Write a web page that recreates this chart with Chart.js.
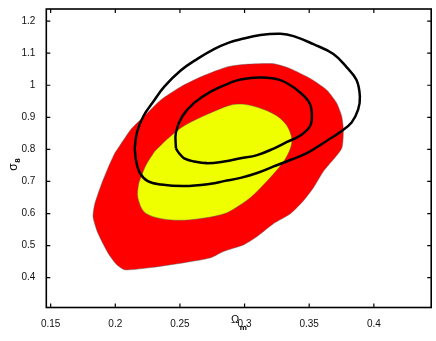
<!DOCTYPE html>
<html><head><meta charset="utf-8">
<script src="https://cdn.jsdelivr.net/npm/chart.js@4.4.0/dist/chart.umd.min.js"></script>
<style>html,body{margin:0;padding:0;background:#fff}#wrap{width:436px;height:341px;position:relative}</style>
</head><body><div id="wrap"><canvas id="c"></canvas></div>
<script>
const xTicks = [0.15, 0.2, 0.25, 0.3, 0.35, 0.4];
const xTickLabels = ['0.15', '0.2', '0.25', '0.3', '0.35', '0.4'];
const yTicks = [0.4, 0.5, 0.6, 0.7, 0.8, 0.9, 1.0, 1.1, 1.2];
const yTickLabels = ['0.4', '0.5', '0.6', '0.7', '0.8', '0.9', '1', '1.1', '1.2'];
const xTitle = 'Ω', xTitleSub = 'm';
const yTitle = 'σ', yTitleSub = '8';

// outer filled contour (red)
const redX = [0.2020,0.2123,0.2225,0.2354,0.2508,0.2662,0.2789,0.2879,0.2995,0.3225,0.3354,0.3508,0.3635,0.3712,0.3751,0.3764,0.3751,0.3610,0.3533,0.3456,0.3354,0.3225,0.3097,0.2995,0.2841,0.2738,0.2533,0.2277,0.2072,0.2008,0.1943,0.1866,0.1828,0.1841,0.1892,0.1943,0.1995,0.2020];
const redY = [0.8026,0.8636,0.9042,0.9551,0.9957,1.0262,1.0466,1.0588,1.0649,1.0670,1.0518,1.0213,0.9856,0.9450,0.9042,0.8636,0.8026,0.7316,0.6806,0.6401,0.5992,0.5687,0.5282,0.5028,0.4824,0.4620,0.4467,0.4315,0.4245,0.4419,0.4772,0.5382,0.5892,0.6297,0.6907,0.7416,0.7874,0.8026];
// inner filled contour (yellow)
const yellowX = [0.2302,0.2405,0.2533,0.2712,0.2890,0.3000,0.3148,0.3251,0.3328,0.3366,0.3354,0.3302,0.3174,0.3046,0.2918,0.2841,0.2738,0.2533,0.2354,0.2225,0.2174,0.2180,0.2205,0.2238,0.2302];
const yellowY = [0.7926,0.8331,0.8737,0.9094,0.9380,0.9405,0.9246,0.9042,0.8737,0.8331,0.8026,0.7621,0.7011,0.6501,0.6145,0.5992,0.5892,0.5791,0.5840,0.6044,0.6501,0.6907,0.7200,0.7517,0.7926];
// outer black line contour
const outerX = [0.2150,0.2168,0.2218,0.2296,0.2379,0.2508,0.2635,0.2764,0.2879,0.2969,0.3123,0.3277,0.3379,0.3533,0.3687,0.3789,0.3866,0.3892,0.3879,0.3828,0.3738,0.3625,0.3490,0.3354,0.3225,0.3097,0.2969,0.2841,0.2738,0.2533,0.2354,0.2251,0.2190,0.2162,0.2150];
const outerY = [0.8026,0.8536,0.9042,0.9500,0.9957,1.0466,1.0823,1.1128,1.1329,1.1433,1.1564,1.1604,1.1533,1.1280,1.0975,1.0567,1.0161,0.9652,0.9246,0.8840,0.8536,0.8240,0.7900,0.7669,0.7468,0.7264,0.7111,0.7011,0.6928,0.6858,0.6907,0.7011,0.7264,0.7621,0.8026];
// inner black line contour
const innerX = [0.2469,0.2469,0.2520,0.2610,0.2738,0.2879,0.2969,0.3123,0.3277,0.3405,0.3495,0.3520,0.3508,0.3431,0.3328,0.3225,0.3097,0.2969,0.2841,0.2712,0.2610,0.2533,0.2495,0.2469];
const innerY = [0.8026,0.8536,0.9042,0.9450,0.9804,1.0060,1.0182,1.0243,1.0161,0.9856,0.9499,0.9145,0.8737,0.8432,0.8231,0.8026,0.7822,0.7721,0.7621,0.7569,0.7621,0.7721,0.7874,0.8026];
// best-fit marker
const bestX = [0.2700];
const bestY = [0.7607];

const zip = (xs, ys) => xs.map((x, i) => ({x: x, y: ys[i]}));
const FONT = "'Liberation Sans', Arial, Helvetica, sans-serif";

const framePlugin = {
  id: 'frame',
  afterDraw(chart) {
    const ctx = chart.ctx, a = chart.chartArea;
    const xs = chart.scales.x, ys = chart.scales.y;
    ctx.save();
    ctx.strokeStyle = '#000';
    ctx.lineWidth = 1.6;
    ctx.strokeRect(a.left, a.top, a.right - a.left, a.bottom - a.top);
    ctx.lineWidth = 1.2;
    const L = 4;
    ctx.beginPath();
    xTicks.forEach(v => {
      const p = xs.getPixelForValue(v);
      ctx.moveTo(p, a.bottom); ctx.lineTo(p, a.bottom - L);
      ctx.moveTo(p, a.top); ctx.lineTo(p, a.top + L);
    });
    yTicks.forEach(v => {
      const p = ys.getPixelForValue(v);
      ctx.moveTo(a.left, p); ctx.lineTo(a.left + L, p);
      ctx.moveTo(a.right, p); ctx.lineTo(a.right - L, p);
    });
    ctx.stroke();
    // axis titles
    ctx.fillStyle = '#000';
    ctx.textBaseline = 'alphabetic';
    ctx.textAlign = 'left';
    const cx = (a.left + a.right) / 2;
    ctx.font = '11px ' + FONT;
    const w1 = ctx.measureText(xTitle).width;
    ctx.font = 'bold 8px ' + FONT;
    const w2 = ctx.measureText(xTitleSub).width;
    const x0 = cx - (w1 + w2) / 2;
    ctx.font = '11px ' + FONT;
    ctx.fillText(xTitle, x0, 322.5);
    ctx.font = 'bold 8px ' + FONT;
    ctx.fillText(xTitleSub, x0 + w1 + 0.5, 330);
    // y title rotated
    ctx.save();
    ctx.translate(17, 164);
    ctx.rotate(-Math.PI / 2);
    ctx.font = '12px ' + FONT;
    const v1 = ctx.measureText(yTitle).width;
    ctx.fillText(yTitle, -v1 / 2 - 3, 0);
    ctx.font = 'bold 8px ' + FONT;
    ctx.fillText(yTitleSub, v1 / 2 - 3 + 0.5, 2.5);
    ctx.restore();
    ctx.restore();
  }
};

new Chart(document.getElementById('c'), {
  type: 'scatter',
  data: {
    datasets: [
      {data: zip(innerX, innerY), showLine: true, fill: false, borderColor: '#000', borderWidth: 2.5, pointRadius: 0, tension: 0.4, order: 0},
      {data: zip(outerX, outerY), showLine: true, fill: false, borderColor: '#000', borderWidth: 2.5, pointRadius: 0, tension: 0.4, order: 1},
      {data: zip(bestX, bestY), showLine: false, pointStyle: 'crossRot', pointRadius: 1.5, borderColor: '#8890a0', borderWidth: 0.8, order: 2},
      {data: zip(yellowX, yellowY), showLine: true, fill: 'shape', backgroundColor: '#efff00', borderColor: 'rgba(90,90,90,0.8)', borderWidth: 0.6, pointRadius: 0, tension: 0.3, order: 3},
      {data: zip(redX, redY), showLine: true, fill: 'shape', backgroundColor: '#ff0000', borderColor: 'rgba(90,90,90,0.8)', borderWidth: 0.6, pointRadius: 0, tension: 0.2, order: 4}
    ]
  },
  options: {
    responsive: true,
    maintainAspectRatio: false,
    animation: false,
    events: [],
    layout: {padding: {top: 2.3, right: 3.3, left: 0, bottom: 0}},
    plugins: {legend: {display: false}, tooltip: {enabled: false}},
    scales: {
      x: {
        type: 'linear', min: 0.14662, max: 0.44438,
        grid: {display: false}, border: {display: false},
        afterBuildTicks: s => { s.ticks = xTicks.map(v => ({value: v})); },
        afterFit: s => { s.height = 33.5; },
        ticks: {padding: 3, color: '#111', font: {family: FONT, size: 10}, maxRotation: 0, autoSkip: false,
          callback: (v, i) => xTickLabels[i]}
      },
      y: {
        type: 'linear', min: 0.3070, max: 1.2378,
        grid: {display: false}, border: {display: false},
        afterBuildTicks: s => { s.ticks = yTicks.map(v => ({value: v})); },
        afterFit: s => { s.width = 46.3; },
        ticks: {padding: 3, color: '#111', font: {family: FONT, size: 10}, autoSkip: false,
          callback: (v, i) => yTickLabels[i]}
      }
    }
  },
  plugins: [framePlugin]
});
</script>
</body></html>
